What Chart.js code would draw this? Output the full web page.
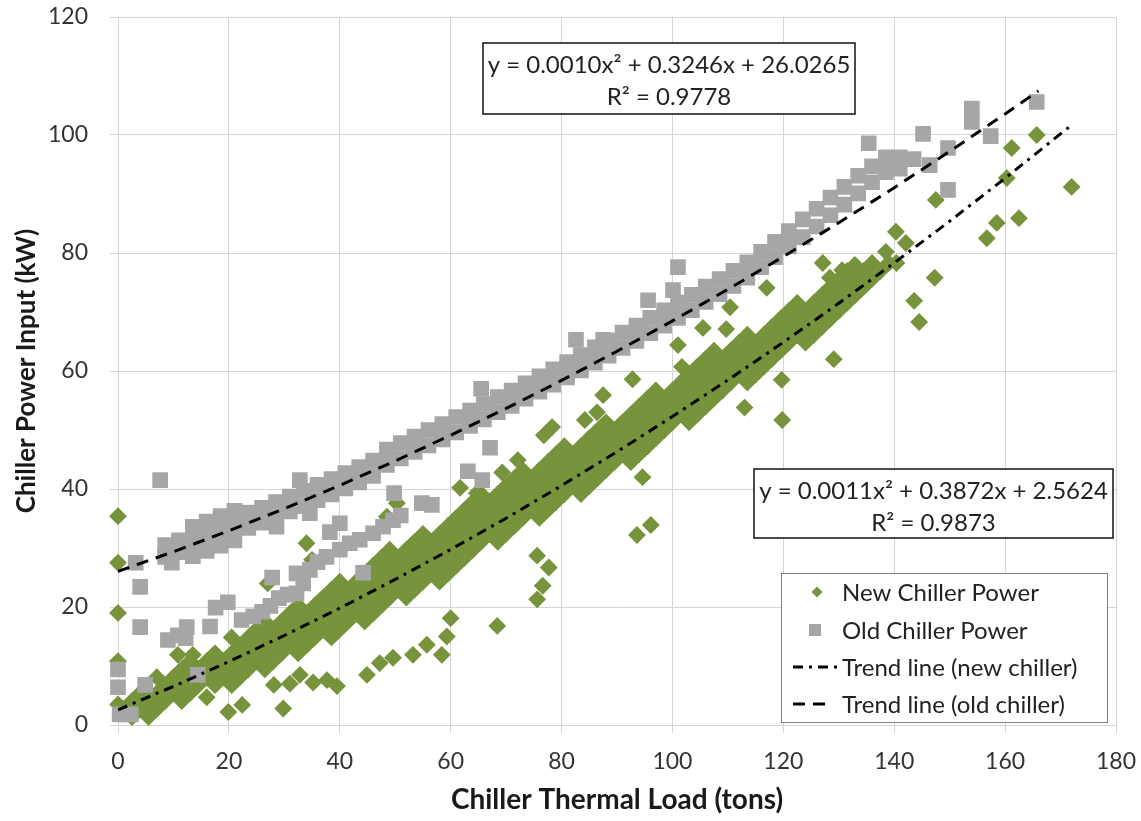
<!DOCTYPE html>
<html>
<head>
<meta charset="utf-8">
<script src="https://cdn.jsdelivr.net/npm/chart.js@4.4.1/dist/chart.umd.min.js"></script>
<style>
  html, body { margin: 0; padding: 0; background: #fff; }
  #wrap { width: 1141px; height: 821px; }
</style>
</head>
<body>
<div id="wrap"><canvas id="chart" width="1141" height="821"></canvas></div>
<script>
// trend lines
const oldTrendLoad = [0, 10, 20, 30, 40, 50, 60, 70, 80, 90, 100, 110, 120, 130, 140, 150, 160, 166];
const oldTrendPower = [26.03, 29.37, 32.92, 36.67, 40.61, 44.76, 49.11, 53.65, 58.40, 63.34, 68.49, 73.84, 79.38, 85.13, 91.07, 97.22, 103.57, 107.47];
const newTrendLoad = [0, 10, 20, 30, 40, 50, 60, 70, 80, 90, 100, 110, 120, 130, 140, 150, 160, 172];
const newTrendPower = [2.56, 6.54, 10.74, 15.17, 19.81, 24.67, 29.75, 35.05, 40.58, 46.32, 52.28, 58.46, 64.86, 71.49, 78.33, 85.39, 92.67, 101.7];

const oldFitText = ['y = 0.0010x² + 0.3246x + 26.0265', 'R² = 0.9778'];
const newFitText = ['y = 0.0011x² + 0.3872x + 2.5624', 'R² = 0.9873'];

// new chiller: dense band, one row per load value [load, power, power, ...]
const newBand = [
  [1, 2.7], [2.5, 1.35, 4.05], [4, 2.7, 5.4], [5.5, 1.35, 4.05], [7, 2.7, 5.4, 8.1],
  [8.5, 4.05, 6.75], [10, 5.4, 8.1], [11.5, 4.05, 6.75, 9.45], [13, 5.4, 8.1, 10.8], [14.5, 6.75, 9.45],
  [16, 8.1, 10.8], [17.5, 6.75, 9.45, 12.15], [19, 8.1, 10.8], [20.5, 6.75, 9.45, 12.15, 14.85],
  [22, 8.1, 10.8, 13.5], [23.5, 9.45, 12.15, 14.85], [25, 10.8, 13.5, 16.2], [26.5, 9.45, 12.15, 14.85, 17.55],
  [28, 10.8, 13.5, 16.2], [29.5, 12.15, 14.85, 17.55], [31, 13.5, 16.2, 18.9], [32.5, 12.15, 14.85, 17.55, 20.25],
  [34, 13.5, 16.2, 18.9], [35.5, 14.85, 17.55, 20.25], [37, 16.2, 18.9, 21.6], [38.5, 14.85, 17.55, 20.25, 22.95],
  [40, 16.2, 18.9, 21.6, 24.3], [41.5, 17.55, 20.25, 22.95], [43, 18.9, 21.6, 24.3], [44.5, 17.55, 20.25, 22.95, 25.65],
  [46, 18.9, 21.6, 24.3, 27], [47.5, 20.25, 22.95, 25.65, 28.35], [49, 21.6, 24.3, 27, 29.7], [50.5, 22.95, 25.65, 28.35],
  [52, 21.6, 24.3, 27, 29.7], [53.5, 22.95, 25.65, 28.35, 31.05], [55, 24.3, 27, 29.7, 32.4], [56.5, 25.65, 28.35, 31.05],
  [58, 24.3, 27, 29.7, 32.4], [59.5, 25.65, 28.35, 31.05, 33.75], [61, 27, 29.7, 32.4, 35.1], [62.5, 28.35, 31.05, 33.75, 36.45],
  [64, 29.7, 32.4, 35.1, 37.8], [65.5, 31.05, 33.75, 36.45, 39.15], [67, 32.4, 35.1, 37.8], [68.5, 31.05, 33.75, 36.45, 39.15],
  [70, 32.4, 35.1, 37.8, 40.5], [71.5, 33.75, 36.45, 39.15, 41.85], [73, 35.1, 37.8, 40.5, 43.2], [74.5, 36.45, 39.15, 41.85],
  [76, 35.1, 37.8, 40.5, 43.2], [77.5, 36.45, 39.15, 41.85, 44.55], [79, 37.8, 40.5, 43.2, 45.9], [80.5, 39.15, 41.85, 44.55, 47.25],
  [82, 40.5, 43.2, 45.9], [83.5, 39.15, 41.85, 44.55, 47.25], [85, 40.5, 43.2, 45.9, 48.6], [86.5, 41.85, 44.55, 47.25, 49.95],
  [88, 43.2, 45.9, 48.6, 51.3], [89.5, 44.55, 47.25, 49.95], [91, 45.9, 48.6, 51.3], [92.5, 44.55, 47.25, 49.95, 52.65],
  [94, 45.9, 48.6, 51.3, 54], [95.5, 47.25, 49.95, 52.65, 55.35], [97, 48.6, 51.3, 54, 56.7], [98.5, 49.95, 52.65, 55.35],
  [100, 51.3, 54, 56.7], [101.5, 52.65, 55.35, 58.05], [103, 51.3, 54, 56.7, 59.4], [104.5, 52.65, 55.35, 58.05, 60.75],
  [106, 54, 56.7, 59.4, 62.1], [107.5, 55.35, 58.05, 60.75, 63.45], [109, 56.7, 59.4, 62.1], [110.5, 58.05, 60.75, 63.45],
  [112, 59.4, 62.1, 64.8], [113.5, 58.05, 60.75, 63.45, 66.15], [115, 59.4, 62.1, 64.8], [116.5, 60.75, 63.45, 66.15],
  [118, 62.1, 64.8, 67.5], [119.5, 63.45, 66.15, 68.85], [121, 64.8, 67.5, 70.2], [122.5, 66.15, 68.85, 71.55],
  [124, 64.8, 67.5, 70.2], [125.5, 66.15, 68.85, 71.55], [127, 67.5, 70.2, 72.9], [128.5, 68.85, 71.55, 74.25],
  [130, 70.2, 72.9, 75.6], [131.5, 71.55, 74.25, 76.95], [133, 72.9, 75.6], [134.5, 74.25, 76.95],
  [136, 75.6, 78.3], [137.5, 76.95], [139, 78.3]
];
const newOutliers = [
  [0, 35.4], [0, 27.5], [0, 19], [0, 10.8], [0, 3.5],
  [10.8, 11.9], [13.5, 11.9], [16, 4.7], [19.9, 2.2], [22.4, 3.4], [29.8, 2.8],
  [28.1, 6.8], [31, 7], [32.8, 8.5], [35.2, 7.2], [37.7, 7.6], [39.5, 6.6],
  [27, 24], [34, 30.8], [35, 28],
  [44.9, 8.5], [47.2, 10.5], [49.6, 11.4], [53.2, 11.9], [55.7, 13.6], [58.4, 11.9], [59.3, 15], [60, 18.1],
  [68.4, 16.8], [75.6, 21.3], [76.6, 23.6], [77.7, 26.7], [75.6, 28.7],
  [93.6, 32.2], [96.1, 33.9], [94.6, 42],
  [48.5, 35.3], [50.3, 37.6], [61.7, 40.2], [64.7, 39.3], [69.3, 42.8], [72.1, 44.9], [76.8, 49.1], [78.3, 50.5],
  [84.2, 51.7], [86.4, 53], [87.5, 55.9], [92.8, 58.6], [101, 64.4], [101.7, 60.7], [105.5, 67.3], [109.7, 67.1],
  [110.4, 70.8], [117, 74.1],
  [113, 53.8], [119.7, 58.5], [119.8, 51.7], [129.1, 62],
  [127.1, 78.3], [130.6, 77.1], [132.9, 78], [128.4, 75.8], [138.5, 80.2], [140.3, 83.6], [142.1, 81.7], [140.4, 78.3],
  [143.6, 71.9], [144.5, 68.3], [147.3, 75.8], [147.5, 89], [156.7, 82.5], [158.5, 85.1], [162.5, 85.9],
  [160.3, 92.7], [161.2, 97.8], [165.7, 100], [172, 91.2]
];

// old chiller: main band, same layout as newBand
const oldBand = [
  [8.5, 28.5, 30.5], [11, 29.3, 31.3], [13.5, 28.6, 31.1, 33.6], [16, 29.5, 32.0, 34.5], [18.5, 30.4, 32.9, 35.4],
  [21, 31.3, 33.8, 36.3], [23.5, 33.4, 36.0], [26, 34.3, 36.8], [28.5, 35.2, 37.8], [31, 36.2, 38.7],
  [33.5, 37.1, 39.7], [36, 38.1, 40.7], [38.5, 39.1, 41.7], [41, 40.1, 42.7], [43.5, 41.1, 43.7],
  [46, 42.2, 44.8], [48.5, 44.1, 46.7], [51, 45.2, 47.8], [53.5, 46.3, 48.9], [56, 47.4, 50.0],
  [58.5, 48.4, 51.0], [61, 49.6, 52.2], [63.5, 50.7, 53.3], [66, 51.8, 54.4], [68.5, 53.0, 55.6],
  [71, 54.1, 56.7], [73.5, 55.3, 57.9], [76, 56.5, 59.1], [78.5, 57.7, 60.3], [81, 58.9, 61.5],
  [83.5, 60.1, 62.7], [86, 61.4, 64.0], [88.5, 62.6, 65.2], [91, 63.9, 66.5], [93.5, 65.1, 67.7],
  [96, 66.4, 69.0], [98.5, 67.7, 70.3], [101, 69.0, 71.6], [103.5, 70.3, 72.9], [106, 71.7, 74.3],
  [108.5, 73.0, 75.6], [111, 74.4, 77.0], [113.5, 75.8, 78.4], [116, 77.6, 80.2], [118.5, 79.3, 81.9],
  [121, 81.1, 83.7], [123.5, 82.7, 85.7], [126, 84.5, 87.5], [128.5, 86.4, 89.4], [131, 88.2, 91.2],
  [133.5, 90.1, 93.1], [136, 92.0, 94.7], [138.5, 93.7, 96.2], [141, 94.3, 96.2], [143.5, 95.9]
];
// old chiller: lower branch at low load
const oldLowBranch = [
  [9, 14.4], [10.8, 15.2], [12.2, 14.7], [12.4, 16.6], [16.6, 16.7], [17.6, 19.9], [19.8, 20.8],
  [22.3, 17.8], [24.4, 18.4], [26, 19.2], [27.5, 20.2], [29, 21.5], [30.6, 22.1], [27.8, 25],
  [32.2, 22.3], [33.4, 24], [32.2, 25.7], [34.6, 26.3], [36, 27.6], [37.6, 28.5], [40, 29.7], [41.8, 30.8],
  [43.6, 31.4], [46, 32.5], [47.8, 33.6], [49.6, 34.7], [51, 35.5], [38.2, 32.7], [40, 34.2], [44.2, 25.8],
  [49.8, 39.3], [54.8, 37.6], [56.6, 37.3]
];
const oldOutliers = [
  [0.3, 1.8], [2.3, 1.8], [0, 6.4], [0, 9.4], [4.9, 6.8], [14.4, 8.5],
  [4, 16.6], [4, 23.4], [3.2, 27.5], [9.7, 27.5], [7.6, 41.5],
  [28.6, 33.6], [34.6, 35.9], [32.8, 41.5],
  [63.1, 43], [65.7, 41.5], [67.1, 47], [65.5, 57], [82.6, 65.3], [87.5, 65.3], [95.6, 72], [100.1, 73.7], [101, 77.6],
  [135.4, 98.6], [145.2, 100.2], [146.4, 94.9], [149.7, 97.8], [149.7, 90.7], [154, 102.2], [154, 104.5],
  [157.4, 99.8], [165.7, 105.6]
];

const GREEN = '#77933c';
const GRAY = '#a6a6a6';
const GRID = '#d4d4d4';

function columnsToPoints(cols) {
  const pts = [];
  cols.forEach(([x, ...ys]) => ys.forEach(y => pts.push({ x, y })));
  return pts;
}
const pairsToPoints = list => list.map(([x, y]) => ({ x, y }));
const zipPoints = (xs, ys) => xs.map((x, i) => ({ x, y: ys[i] }));

const newPoints = columnsToPoints(newBand).concat(pairsToPoints(newOutliers));
const oldPoints = columnsToPoints(oldBand).concat(pairsToPoints(oldLowBranch), pairsToPoints(oldOutliers));

// equation boxes and legend, drawn on top of the marks
const fitBoxes = [
  { left: 483, top: 43, width: 372, height: 71, lines: oldFitText },
  { left: 754, top: 469, width: 359, height: 69, lines: newFitText }
];
const legendBox = { left: 781, top: 573, width: 326, height: 149 };

const overlayPlugin = {
  id: 'overlay',
  afterDatasetsDraw(chart) {
    const ctx = chart.ctx;
    ctx.save();
    ctx.font = '24px Lato';
    ctx.textBaseline = 'middle';

    fitBoxes.forEach(b => {
      ctx.fillStyle = '#fff';
      ctx.fillRect(b.left, b.top, b.width, b.height);
      ctx.strokeStyle = '#111';
      ctx.lineWidth = 1.5;
      ctx.setLineDash([]);
      ctx.strokeRect(b.left, b.top, b.width, b.height);
      ctx.fillStyle = '#222';
      ctx.textAlign = 'center';
      ctx.fillText(b.lines[0], b.left + b.width / 2, b.top + 22);
      ctx.fillText(b.lines[1], b.left + b.width / 2, b.top + 54);
    });

    const L = legendBox;
    ctx.fillStyle = '#fff';
    ctx.fillRect(L.left, L.top, L.width, L.height);
    ctx.strokeStyle = '#7f7f7f';
    ctx.lineWidth = 1;
    ctx.strokeRect(L.left + 0.5, L.top + 0.5, L.width, L.height);

    const ds = chart.data.datasets;
    const rowY = [19, 57, 94, 131];
    ctx.textAlign = 'left';
    ds.forEach((d, i) => {
      const y = L.top + rowY[i];
      if (i === 0) {
        ctx.fillStyle = d.backgroundColor;
        ctx.beginPath();
        ctx.moveTo(L.left + 36, y - 5.5);
        ctx.lineTo(L.left + 41.5, y);
        ctx.lineTo(L.left + 36, y + 5.5);
        ctx.lineTo(L.left + 30.5, y);
        ctx.closePath();
        ctx.fill();
      } else if (i === 1) {
        ctx.fillStyle = d.backgroundColor;
        ctx.fillRect(L.left + 28, y - 6, 12, 12);
      } else {
        ctx.strokeStyle = d.borderColor;
        ctx.lineWidth = 3;
        ctx.setLineDash(d.borderDash);
        ctx.beginPath();
        ctx.moveTo(L.left + 12, y);
        ctx.lineTo(L.left + (i === 2 ? 59 : 48), y);
        ctx.stroke();
        ctx.setLineDash([]);
      }
      ctx.fillStyle = '#222';
      ctx.fillText(d.label, L.left + 61, y + 1);
    });
    ctx.restore();
  }
};

Chart.defaults.font.family = "Lato, 'Open Sans', sans-serif";

new Chart(document.getElementById('chart').getContext('2d'), {
  type: 'scatter',
  data: {
    datasets: [
      {
        label: 'New Chiller Power',
        data: newPoints,
        pointStyle: 'rectRot',
        pointRadius: 7.5,
        backgroundColor: GREEN,
        borderColor: GREEN,
        borderWidth: 2,
        order: 3,
        clip: false
      },
      {
        label: 'Old Chiller Power',
        data: oldPoints,
        pointStyle: 'rect',
        pointRadius: 10,
        backgroundColor: GRAY,
        borderColor: GRAY,
        borderWidth: 1.5,
        order: 2,
        clip: false
      },
      {
        label: 'Trend line (new chiller)',
        data: zipPoints(newTrendLoad, newTrendPower),
        showLine: true,
        pointRadius: 0,
        borderColor: '#000',
        borderWidth: 3,
        borderDash: [10, 6, 3, 6],
        order: 1
      },
      {
        label: 'Trend line (old chiller)',
        data: zipPoints(oldTrendLoad, oldTrendPower),
        showLine: true,
        pointRadius: 0,
        borderColor: '#000',
        borderWidth: 3,
        borderDash: [12, 8],
        order: 0
      }
    ]
  },
  options: {
    responsive: false,
    animation: false,
    layout: { padding: { top: 17, right: 25, left: 0, bottom: 0 } },
    plugins: {
      legend: { display: false },
      tooltip: { enabled: false }
    },
    scales: {
      x: {
        type: 'linear',
        min: 0,
        max: 180,
        afterFit(scale) {
          scale.height = 96;
          scale.paddingLeft = 0;
          scale.paddingRight = 0;
        },
        ticks: { stepSize: 20, color: '#333', font: { size: 23 }, padding: 15 },
        grid: { color: GRID, tickLength: 8 },
        border: { color: GRID },
        title: {
          display: true,
          text: 'Chiller Thermal Load (tons)',
          color: '#1a1a1a',
          font: { size: 28, weight: 'bold' },
          padding: { top: 0, bottom: 4 }
        }
      },
      y: {
        type: 'linear',
        min: 0,
        max: 120,
        afterFit(scale) {
          scale.width = 118;
          scale.paddingTop = 0;
          scale.paddingBottom = 0;
        },
        ticks: { stepSize: 20, color: '#333', font: { size: 23 }, padding: 22 },
        grid: { color: GRID, tickLength: 8 },
        border: { color: GRID },
        title: {
          display: true,
          text: 'Chiller Power Input (kW)',
          color: '#1a1a1a',
          font: { size: 26, weight: 'bold' },
          padding: { top: 11, bottom: 0 }
        }
      }
    }
  },
  plugins: [overlayPlugin]
});
</script>
</body>
</html>
